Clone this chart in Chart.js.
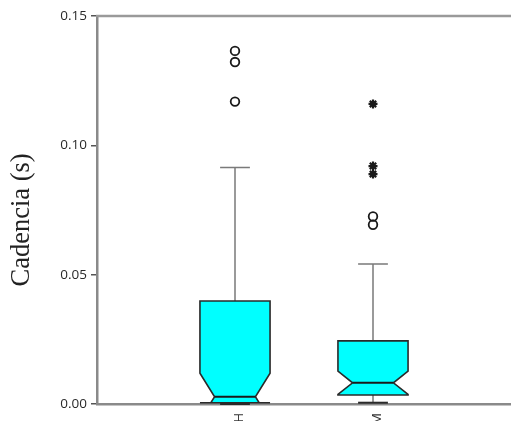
<!DOCTYPE html>
<html><head><meta charset="utf-8">
<script src="https://cdn.jsdelivr.net/npm/chart.js@4.4.1/dist/chart.umd.min.js"></script>
<style>html,body{margin:0;padding:0;background:#fff}#wrap{width:511px;height:421px;position:relative}</style>
</head><body><div id="wrap"><canvas id="c"></canvas></div>
<script>
// ---- data ----
const categories = ['H', 'M'];
const q1 = [0.0005, 0.0035];
const medians = [0.0028, 0.0082];
const q3 = [0.0398, 0.0244];
const whiskerLow = [0.0, 0.0005];
const whiskerHigh = [0.0914, 0.0541];
const notchLow = [-0.0063, 0.0037];
const notchHigh = [0.0119, 0.0127];
const outliersH = [0.1365, 0.1322, 0.1169];
const outliersM = [0.0725, 0.0693];
const extremesM = [0.1160, 0.0920, 0.0889];
const yTicks = [0.00, 0.05, 0.10, 0.15];

// ---- style constants ----
const BOX_HALF = 0.254;    // in x-units
const NOTCH_HALF = 0.148;
const CAP_HALF = 0.108;

const boxPlugin = {
  id: 'notchedBoxes',
  beforeDatasetsDraw(chart) {
    const {ctx, scales: {x, y}, chartArea} = chart;
    ctx.save();
    // top frame line
    ctx.strokeStyle = '#9a9a9a';
    ctx.lineWidth = 2.5;
    ctx.beginPath();
    ctx.moveTo(chartArea.left - 1, chartArea.top);
    ctx.lineTo(chart.width, chartArea.top);
    ctx.stroke();

    categories.forEach((c, i) => {
      const v = i + 1;
      const cx = x.getPixelForValue(v);
      const hw = x.getPixelForValue(v + BOX_HALF) - cx;
      const nw = x.getPixelForValue(v + NOTCH_HALF) - cx;
      const cw = x.getPixelForValue(v + CAP_HALF) - cx;
      const yQ1 = y.getPixelForValue(q1[i]);
      const yQ3 = y.getPixelForValue(q3[i]);
      const yMed = y.getPixelForValue(medians[i]);
      const yNH = y.getPixelForValue(Math.min(notchHigh[i], q3[i]));
      const yWL = y.getPixelForValue(whiskerLow[i]);
      const yWH = y.getPixelForValue(whiskerHigh[i]);

      // whiskers
      ctx.strokeStyle = '#7a7a7a';
      ctx.lineWidth = 1.5;
      ctx.beginPath();
      ctx.moveTo(cx, yQ3); ctx.lineTo(cx, yWH);
      ctx.moveTo(cx - cw, yWH); ctx.lineTo(cx + cw, yWH);
      ctx.moveTo(cx, yQ1); ctx.lineTo(cx, yWL);
      ctx.stroke();
      ctx.strokeStyle = '#2a2a2a';
      ctx.lineWidth = 2;
      ctx.beginPath();
      ctx.moveTo(cx - cw, yWL); ctx.lineTo(cx + cw, yWL);
      ctx.stroke();

      // lower notch end, clipped at Q1
      let wq;
      if (notchLow[i] >= q1[i]) {
        wq = null;
      } else {
        const t = (medians[i] - q1[i]) / (medians[i] - notchLow[i]);
        wq = nw + (hw - nw) * t;
      }
      const yNL = y.getPixelForValue(Math.max(notchLow[i], q1[i]));

      ctx.beginPath();
      ctx.moveTo(cx - hw, yQ3);
      ctx.lineTo(cx + hw, yQ3);
      ctx.lineTo(cx + hw, yNH);
      ctx.lineTo(cx + nw, yMed);
      if (wq === null) {
        ctx.lineTo(cx + hw, yNL);
        ctx.lineTo(cx + hw, yQ1);
        ctx.lineTo(cx - hw, yQ1);
        ctx.lineTo(cx - hw, yNL);
      } else {
        ctx.lineTo(cx + wq, yQ1);
        ctx.lineTo(cx + hw, yQ1);
        ctx.lineTo(cx - hw, yQ1);
        ctx.lineTo(cx - wq, yQ1);
      }
      ctx.lineTo(cx - nw, yMed);
      ctx.lineTo(cx - hw, yNH);
      ctx.closePath();
      ctx.fillStyle = '#00ffff';
      ctx.fill();
      ctx.strokeStyle = '#2a2a2a';
      ctx.lineWidth = 1.6;
      ctx.lineJoin = 'miter';
      ctx.stroke();

      // median
      ctx.strokeStyle = '#1a1a1a';
      ctx.lineWidth = 2;
      ctx.beginPath();
      ctx.moveTo(cx - nw, yMed); ctx.lineTo(cx + nw, yMed);
      ctx.stroke();
    });
    ctx.restore();
  }
};

const circlePts = [
  ...outliersH.map(v => ({x: 1, y: v})),
  ...outliersM.map(v => ({x: 2, y: v}))
];
const starPts = extremesM.map(v => ({x: 2, y: v}));

new Chart(document.getElementById('c'), {
  type: 'scatter',
  data: {
    datasets: [
      {label: 'outliers', data: circlePts, pointStyle: 'circle', pointRadius: 4.3,
       borderColor: '#1a1a1a', borderWidth: 1.8, backgroundColor: 'rgba(255,255,255,0)'},
      {label: 'extremes', data: starPts, pointStyle: 'star', pointRadius: 4.5,
       borderColor: '#1a1a1a', borderWidth: 2.2, backgroundColor: '#1a1a1a'}
    ]
  },
  options: {
    responsive: true,
    maintainAspectRatio: false,
    animation: false,
    events: [],
    layout: {autoPadding: false, padding: {top: 16, right: 0, left: 0, bottom: 0}},
    plugins: {legend: {display: false}, tooltip: {enabled: false}},
    scales: {
      x: {
        type: 'linear', min: 0, max: 3,
        afterBuildTicks: s => { s.ticks = categories.map((c, i) => ({value: i + 1})); },
        afterFit: s => { s.height = 17; s.paddingLeft = 0; s.paddingRight = 0; },
        grid: {display: false},
        border: {display: true, color: '#8a8a8a', width: 2.5},
        ticks: {
          callback: v => categories[v - 1] || '',
          minRotation: 90, maxRotation: 90, padding: 1, labelOffset: 4,
          color: '#333', font: {family: 'Open Sans', size: 13}
        }
      },
      y: {
        min: 0, max: 0.15,
        afterBuildTicks: s => { s.ticks = yTicks.map(v => ({value: v})); },
        afterFit: s => { s.width = 97; },
        grid: {drawOnChartArea: false, drawTicks: true, tickLength: 6, color: '#555', lineWidth: 1.5},
        border: {display: true, color: '#8a8a8a', width: 2.5},
        ticks: {
          callback: v => v.toFixed(2), padding: 4,
          color: '#2a2a2a', font: {family: 'Open Sans', size: 13.5}
        },
        title: {
          display: true, text: 'Cadencia (s)   ', color: '#222',
          font: {family: 'Liberation Serif', size: 26.5, lineHeight: 1.2},
          padding: {top: 6, bottom: 0}
        }
      }
    }
  },
  plugins: [boxPlugin]
});
</script>
</body></html>
